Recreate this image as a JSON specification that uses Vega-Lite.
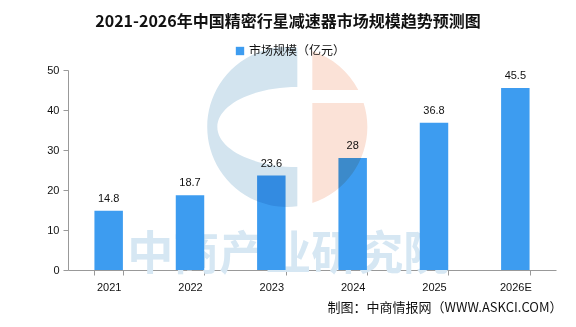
{
  "$schema": "https://vega.github.io/schema/vega-lite/v6.json",
  "width": 488,
  "height": 200,
  "autosize": {"type": "none"},
  "padding": {"left": 68, "top": 70, "right": 20, "bottom": 57},
  "background": "white",
  "title": {
    "text": "2021-2026年中国精密行星减速器市场规模趋势预测图",
    "font": "Noto Sans CJK SC",
    "fontSize": 16,
    "fontWeight": "bold",
    "color": "#111111",
    "anchor": "middle",
    "dx": -24,
    "offset": 15
  },
  "data": {
    "values": [
      {"year": "2021", "value": 14.8, "series": "市场规模（亿元）"},
      {"year": "2022", "value": 18.7, "series": "市场规模（亿元）"},
      {"year": "2023", "value": 23.6, "series": "市场规模（亿元）"},
      {"year": "2024", "value": 28, "series": "市场规模（亿元）"},
      {"year": "2025", "value": 36.8, "series": "市场规模（亿元）"},
      {"year": "2026E", "value": 45.5, "series": "市场规模（亿元）"}
    ]
  },
  "encoding": {
    "x": {
      "field": "year",
      "type": "nominal",
      "sort": null,
      "scale": {
        "domain": ["2021", "2022", "2023", "2024", "2025", "2026E"],
        "paddingInner": 0.65,
        "paddingOuter": 0.325
      },
      "axis": {
        "title": "制图：中商情报网（WWW.ASKCI.COM）",
        "titleFont": "Noto Sans CJK SC",
        "titleFontSize": 13,
        "titleFontWeight": "normal",
        "titleColor": "#111111",
        "titleAnchor": "end",
        "titleAlign": "right",
        "titleBaseline": "middle",
        "titleX": 494,
        "titleY": 37,
        "labelAngle": 0,
        "labelFont": "Liberation Sans",
        "labelFontSize": 11,
        "labelColor": "#111111",
        "labelPadding": 6,
        "domainColor": "#999999",
        "tickColor": "#999999",
        "tickBand": "extent",
        "tickSize": 5,
        "grid": false
      }
    },
    "y": {
      "field": "value",
      "type": "quantitative",
      "scale": {"domain": [0, 50]},
      "axis": {
        "title": null,
        "values": [0, 10, 20, 30, 40, 50],
        "labelOverlap": false,
        "labelFont": "Liberation Sans",
        "labelFontSize": 11,
        "labelColor": "#111111",
        "labelPadding": 4,
        "domainColor": "#999999",
        "tickColor": "#999999",
        "tickSize": 5,
        "grid": false
      }
    }
  },
  "layer": [
    {
      "transform": [{"filter": "datum.year == '2023'"}],
      "mark": {
        "type": "text",
        "text": "中商产业研究院",
        "font": "Noto Sans CJK SC",
        "fontSize": 46,
        "fontWeight": "bold",
        "color": "#d6e7f3",
        "dx": 17
      },
      "encoding": {
        "y": {"datum": 3.8, "type": "quantitative"}
      }
    },
    {
      "mark": {"type": "bar", "color": "#3d9cf0"},
      "encoding": {
        "color": {
          "field": "series",
          "type": "nominal",
          "scale": {"range": ["#3d9cf0"]},
          "legend": {
            "title": null,
            "orient": "none",
            "legendX": 166,
            "legendY": -25,
            "symbolType": "square",
            "symbolSize": 70,
            "labelFont": "Noto Sans CJK SC",
            "labelFontSize": 12,
            "labelColor": "#111111",
            "labelOffset": 3
          }
        }
      }
    },
    {
      "mark": {
        "type": "text",
        "baseline": "bottom",
        "dy": -7,
        "font": "Liberation Sans",
        "fontSize": 11,
        "color": "#111111"
      },
      "encoding": {
        "text": {"field": "value", "type": "quantitative"}
      }
    },
    {
      "transform": [{"filter": "datum.year == '2023'"}],
      "mark": {
        "type": "point",
        "filled": true,
        "opacity": 1,
        "strokeWidth": 0,
        "size": 25600,
        "color": "#d3e4ef",
        "blend": "multiply",
        "shape": "M0.325,-0.992 A1,1 0 1,0 0.325,0.992 L0.325,0.5 A1,0.5 0 0,1 0.325,-0.5 Z"
      },
      "encoding": {
        "y": {"datum": 35.75, "type": "quantitative"}
      }
    },
    {
      "transform": [{"filter": "datum.year == '2023'"}],
      "mark": {
        "type": "point",
        "filled": true,
        "opacity": 1,
        "strokeWidth": 0,
        "size": 25600,
        "color": "#fbe2d7",
        "blend": "multiply",
        "shape": "M0.5125,-0.95 A1,1 0 0,1 1.087,-0.4625 L0.5125,-0.4625 Z M0.5125,-0.3 L1.154,-0.3 A1,1 0 0,1 0.5125,0.95 Z"
      },
      "encoding": {
        "y": {"datum": 35.75, "type": "quantitative"}
      }
    }
  ],
  "config": {
    "view": {"stroke": null}
  }
}
